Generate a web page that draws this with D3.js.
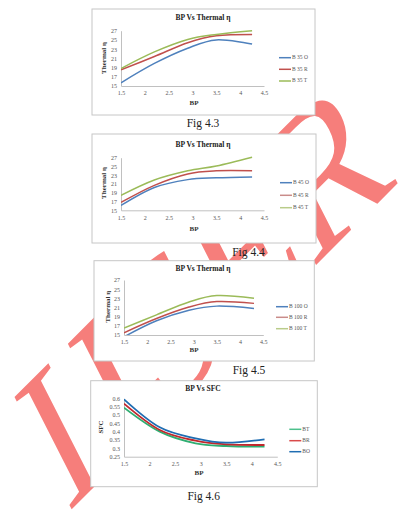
<!DOCTYPE html>
<html lang="en">
<head>
<meta charset="UTF-8">
<title>BP charts</title>
<style>
  body { margin: 0; background: #fff; }
  svg { display: block; }
</style>
</head>
<body>
<script src="https://d3js.org/d3.v7.min.js"></script>
<script>
// BP values (x) for each figure
const bpA = [1.5, 2.2, 2.9, 3.5, 4.25];
const bpB = [1.5, 2.2, 2.9, 3.5, 4.3];
const xTicks = [1.5, 2, 2.5, 3, 3.5, 4, 4.5];
const etaTicks = [15, 17, 19, 21, 23, 25, 27];
const sfcTicks = [0.25, 0.3, 0.35, 0.4, 0.45, 0.5, 0.55, 0.6];

// Fig 4.3
const b35O = [15.7, 19.9, 23.2, 25.0, 24.1];
const b35R = [18.5, 21.4, 24.4, 25.9, 26.2];
const b35T = [18.8, 22.4, 25.1, 26.2, 27.0];
const legend43 = ["B 35 O", "B 35 R", "B 35 T"];

// Fig 4.4
const b45O = [16.1, 20.2, 22.0, 22.4, 22.6];
const b45R = [16.8, 20.7, 23.3, 24.0, 24.0];
const b45T = [18.4, 21.9, 24.0, 25.1, 27.1];
const legend44 = ["B 45 O", "B 45 R", "B 45 T"];

// Fig 4.5
const b100O = [14.6, 18.1, 20.4, 21.3, 20.8];
const b100R = [15.5, 18.6, 21.1, 22.3, 21.9];
const b100T = [16.5, 19.4, 22.2, 23.6, 23.0];
const legend45 = ["B 100 O", "B 100 R", "B 100 T"];

// Fig 4.6
const sfcT = [0.544, 0.40, 0.33, 0.314, 0.31];
const sfcR = [0.568, 0.41, 0.346, 0.324, 0.32];
const sfcO = [0.594, 0.426, 0.36, 0.334, 0.354];
const legend46 = ["BT", "BR", "BO"];

const W = 399, H = 530;
const svg = d3.select("body").append("svg").attr("width", W).attr("height", H);
svg.append("rect").attr("width", W).attr("height", H).attr("fill", "#fff");

// red watermark behind the charts
svg.append("text")
    .attr("transform", "translate(67,514) rotate(-45) skewX(-18)")
    .attr("font-family", "Liberation Serif, serif")
    .attr("font-size", 183)
    .attr("fill", "#f67e7b")
    .text("IJSER");

const serif = "Liberation Serif, Times New Roman, serif";
let clipId = 0;

function drawChart(o) {
    const g = svg.append("g");
    g.append("rect")
        .attr("x", o.box[0]).attr("y", o.box[1])
        .attr("width", o.box[2] - o.box[0]).attr("height", o.box[3] - o.box[1])
        .attr("fill", "#fff").attr("stroke", "#c6c6c6").attr("stroke-width", 1);

    const x = d3.scaleLinear().domain([1.5, 4.5]).range([o.x0, o.x1]);
    const y = d3.scaleLinear().domain(o.yDomain).range([o.yb, o.yt]);

    // title
    g.append("text").attr("x", o.titleX).attr("y", o.titleY)
        .attr("text-anchor", "middle").attr("dominant-baseline", "middle")
        .attr("font-family", serif).attr("font-weight", "bold").attr("font-size", 7.5)
        .attr("fill", "#222").text(o.title);

    // axes
    const ya = g.append("g").attr("transform", `translate(${o.x0},0)`)
        .call(d3.axisLeft(y).tickValues(o.yTicks).tickSize(0).tickPadding(4).tickFormat(o.yFormat));
    const xa = g.append("g").attr("transform", `translate(0,${o.yb})`)
        .call(d3.axisBottom(x).tickValues(xTicks).tickSize(0).tickPadding(5).tickFormat(d3.format("")));
    [ya, xa].forEach(a => {
        a.select(".domain").attr("stroke", "#c0c0c0");
        a.selectAll("text").attr("font-family", serif).attr("font-size", 6).attr("fill", "#555");
    });

    // axis titles
    g.append("text").attr("x", o.bpX).attr("y", o.bpY)
        .attr("text-anchor", "middle").attr("dominant-baseline", "middle")
        .attr("font-family", serif).attr("font-weight", "bold").attr("font-size", 7)
        .attr("fill", "#333").text("BP");
    g.append("text").attr("transform", `translate(${o.ylX},${o.ylY}) rotate(-90)`)
        .attr("text-anchor", "middle").attr("dominant-baseline", "middle")
        .attr("font-family", serif).attr("font-weight", "bold").attr("font-size", 7)
        .attr("fill", "#333").text(o.yLabel);

    // lines, clipped to the plot area like Excel does
    const id = "clip" + (clipId++);
    g.append("clipPath").attr("id", id).append("rect")
        .attr("x", o.x0).attr("y", o.yt - 2).attr("width", o.x1 - o.x0).attr("height", o.yb - o.yt + 2);
    const line = d3.line().x(d => x(d[0])).y(d => y(d[1])).curve(d3.curveCardinal.tension(0));
    const lg = g.append("g").attr("clip-path", `url(#${id})`);
    o.series.forEach((s, i) => {
        lg.append("path")
            .datum(o.xs.map((v, j) => [v, s[j]]))
            .attr("fill", "none").attr("stroke", o.colors[i]).attr("stroke-width", o.lw)
            .attr("d", line);
    });

    // legend
    o.legend.forEach((name, i) => {
        const ly = o.legY[i];
        g.append("line").attr("x1", o.legX).attr("x2", o.legX + 12).attr("y1", ly).attr("y2", ly)
            .attr("stroke", o.legColors[i]).attr("stroke-width", 1.5);
        g.append("text").attr("x", o.legX + 13).attr("y", ly)
            .attr("dominant-baseline", "middle")
            .attr("font-family", serif).attr("font-size", 5.5).attr("fill", "#555").text(name);
    });

    // caption
    svg.append("text").attr("x", o.capX).attr("y", o.capY)
        .attr("text-anchor", "middle")
        .attr("font-family", serif).attr("font-size", 11.5).attr("fill", "#222").text(o.caption);
}

const excel = ["#4f81bd", "#c0504d", "#9bbb59"];
const etaFmt = d3.format("d");

drawChart({
    box: [92, 9, 315, 115], title: "BP Vs Thermal \u03b7", titleX: 203, titleY: 18.5,
    x0: 121, x1: 264, yb: 86, yt: 30.7, yDomain: [15, 27], yTicks: etaTicks, yFormat: etaFmt,
    bpX: 194, bpY: 103, ylX: 104, ylY: 58, yLabel: "Thermal \u03b7",
    xs: bpA, series: [b35O, b35R, b35T], colors: excel, lw: 1.5,
    legend: legend43, legColors: excel, legX: 279, legY: [57.7, 69.3, 81],
    caption: "Fig 4.3", capX: 203, capY: 127
});

drawChart({
    box: [92, 134, 316, 243], title: "BP Vs Thermal \u03b7", titleX: 203, titleY: 145,
    x0: 121, x1: 264, yb: 210.3, yt: 157.7, yDomain: [15, 27], yTicks: etaTicks, yFormat: etaFmt,
    bpX: 194, bpY: 229.3, ylX: 104, ylY: 183, yLabel: "Thermal \u03b7",
    xs: bpA, series: [b45O, b45R, b45T], colors: excel, lw: 1.5,
    legend: legend44, legColors: ["#4f81bd", "#c98c8a", "#b9cc8a"], legX: 280, legY: [182.7, 195.3, 207.7],
    caption: "Fig 4.4", capX: 248.5, capY: 256
});

drawChart({
    box: [94, 260.7, 314.3, 361], title: "BP Vs Thermal \u03b7", titleX: 203, titleY: 269.3,
    x0: 124, x1: 263.3, yb: 335, yt: 280, yDomain: [15, 27], yTicks: etaTicks, yFormat: etaFmt,
    bpX: 194, bpY: 350.7, ylX: 108, ylY: 306.7, yLabel: "Thermal \u03b7",
    xs: bpB, series: [b100O, b100R, b100T], colors: excel, lw: 1.5,
    legend: legend45, legColors: ["#4f81bd", "#c98c8a", "#b9cc8a"], legX: 276, legY: [306.7, 317.3, 328.7],
    caption: "Fig 4.5", capX: 249, capY: 373.5
});

drawChart({
    box: [90.7, 380.7, 317.3, 486.7], title: "BP Vs SFC", titleX: 203, titleY: 389.3,
    x0: 124, x1: 277.3, yb: 456.7, yt: 398.3, yDomain: [0.25, 0.6], yTicks: sfcTicks, yFormat: d3.format(""),
    bpX: 199, bpY: 473.3, ylX: 101.5, ylY: 427, yLabel: "SFC",
    xs: bpA, series: [sfcT, sfcR, sfcO], colors: ["#2fae72", "#c0282d", "#1f6db2"], lw: 1.8,
    legend: legend46, legColors: ["#4cc08c", "#d94a4a", "#1f6db2"], legX: 289.3, legY: [429.3, 440.7, 451.7],
    caption: "Fig 4.6", capX: 203.7, capY: 500
});
</script>
</body>
</html>
